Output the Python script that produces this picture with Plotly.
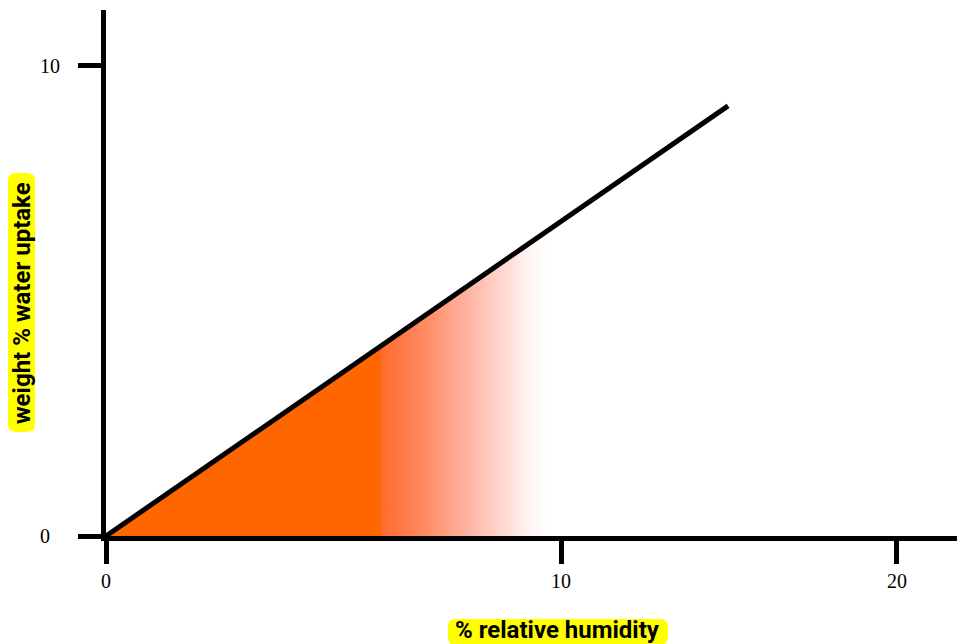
import plotly.graph_objects as go

# data
humidity = [0, 13.67]          # % relative humidity (axis units)
uptake = [0, 9.15]             # weight % water uptake
x_tick_vals = [0, 10, 17.38]
x_tick_text = ["0", "10", "20"]
y_tick_vals = [0, 10]
y_tick_text = ["0\u2002", "10"]

L, T, W, H = 106, 10, 851, 526   # plot area in pixels


def px_x(px):
    return (px - L) / W


def px_y(py):
    return (T + H - py) / H


def rounded_path(w, h, r):
    hw, hh = w / 2, h / 2
    return (f"M {-hw + r},{-hh} L {hw - r},{-hh} Q {hw},{-hh} {hw},{-hh + r} "
            f"L {hw},{hh - r} Q {hw},{hh} {hw - r},{hh} L {-hw + r},{hh} "
            f"Q {-hw},{hh} {-hw},{hh - r} L {-hw},{-hh + r} Q {-hw},{-hh} {-hw + r},{-hh} Z")


fig = go.Figure()
fig.add_trace(go.Scatter(
    x=humidity, y=uptake, mode="lines",
    line=dict(color="black", width=5),
    fill="tozeroy",
    fillgradient=dict(
        type="horizontal", start=6.0, stop=9.9,
        colorscale=[
            [0.0, "#FF6600"],
            [0.02, "#FF6C30"],
            [0.25, "#FF8A62"],
            [0.5, "#FFB3A2"],
            [0.75, "#FFE2DD"],
            [1.0, "rgba(255,255,255,0)"],
        ],
    ),
    hoverinfo="skip", showlegend=False,
))

tickfont = dict(family="Liberation Serif, Times New Roman, serif", size=20, color="black")
fig.update_xaxes(
    range=[0, 18.70], showgrid=False, zeroline=False,
    showline=True, linecolor="black", linewidth=5,
    ticks="outside", ticklen=23, tickwidth=5, tickcolor="black",
    tickvals=x_tick_vals, ticktext=x_tick_text, tickfont=tickfont,
)
fig.update_yaxes(
    range=[0, 11.19], showgrid=False, zeroline=False,
    showline=True, linecolor="black", linewidth=5,
    ticks="outside", ticklen=23, tickwidth=5, tickcolor="black",
    tickvals=y_tick_vals, ticktext=y_tick_text, tickfont=tickfont,
    ticklabelstandoff=14,
)

titlefont = dict(family="Roboto, Liberation Sans, sans-serif",
                 size=24, color="black", weight="bold")

# yellow rounded pills behind the axis titles
fig.add_shape(type="path", xref="paper", yref="paper",
              xsizemode="pixel", ysizemode="pixel",
              xanchor=px_x(558), yanchor=px_y(632),
              path=rounded_path(220, 26, 8),
              fillcolor="#FFFF00", line_width=0, layer="below")
fig.add_shape(type="path", xref="paper", yref="paper",
              xsizemode="pixel", ysizemode="pixel",
              xanchor=px_x(21.5), yanchor=px_y(302.5),
              path=rounded_path(27, 259, 8),
              fillcolor="#FFFF00", line_width=0, layer="below")

fig.add_annotation(text="% relative humidity", xref="paper", yref="paper",
                   x=px_x(557), y=px_y(630), xanchor="center", yanchor="middle",
                   showarrow=False, font=titlefont)
fig.add_annotation(text="weight % water uptake", xref="paper", yref="paper",
                   x=px_x(22), y=px_y(303), xanchor="center", yanchor="middle",
                   textangle=-90, showarrow=False, font=titlefont)

fig.update_layout(
    width=957, height=644,
    margin=dict(l=L, r=957 - L - W, t=T, b=644 - T - H),
    plot_bgcolor="white", paper_bgcolor="white",
)
fig.write_html(
    "out.html",
    config={"displayModeBar": False},
    post_script="document.body.style.margin='0';document.body.style.overflow='hidden';",
)
